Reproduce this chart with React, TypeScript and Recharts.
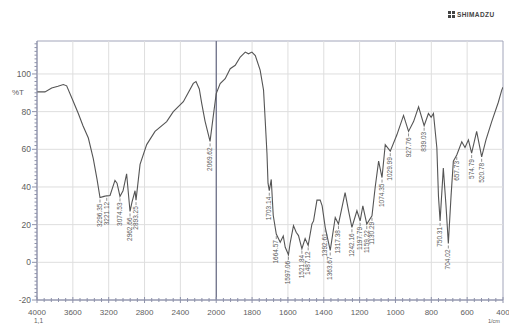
import React from 'react';
import { ComposedChart, Line, Scatter, XAxis, YAxis, ReferenceLine, ReferenceArea } from 'recharts';

const wavenumbers = [
  4000, 3911, 3836, 3766, 3706, 3669, 3609, 3539, 3487, 3427, 3372, 3330, 3297, 3252, 3222, 3185,
  3130, 3107, 3074, 3040, 3000, 2962, 2940, 2906, 2895, 2850, 2776, 2683, 2553, 2479, 2367, 2256,
  2226, 2189, 2162, 2125, 2069, 2032, 2000, 1978, 1950, 1922, 1894, 1866, 1838, 1820, 1801, 1782,
  1755, 1736, 1727, 1717, 1711, 1704, 1693, 1682, 1665, 1643, 1626, 1615, 1597, 1588, 1569, 1554,
  1541, 1522, 1504, 1487, 1466, 1457, 1438, 1420, 1409, 1392, 1364, 1336, 1318, 1281, 1262, 1243,
  1215, 1197, 1182, 1160, 1131, 1113, 1094, 1075, 1057, 1029, 992, 955, 927, 899, 871, 840, 816,
  801, 788, 769, 760, 751, 733, 718, 705, 690, 677, 658, 630, 612, 593, 575, 547, 519, 495, 463,
  426, 407, 400,
];

const transmittance = [
  90.5, 90.5, 92.6, 93.5, 94.4, 93.7, 87, 79, 72.5, 66, 55, 44, 34.4, 35, 35.3, 35.5,
  43.5, 42, 35, 38, 47, 27, 32, 38, 33, 52, 62.5, 69.5, 74.7, 80, 85.3, 95,
  96, 92, 84.4, 75, 64.2, 78, 89.6, 94.9, 97.5, 102.8, 104.6, 109, 111.6, 110.7, 111.6, 109.8,
  102, 91.4, 75.8, 58, 42, 38, 44, 25, 15, 10.7, 14, 8, 4, 10, 19.5, 16,
  14.2, 7.2, 12.6, 9, 20.4, 22, 33, 33, 30, 18.6, 6.3, 23.8, 20.3, 37, 27.4, 18.6,
  27.4, 22, 30, 20.3, 24.7, 40, 53.7, 45, 62.5, 59, 67.7, 78, 69.5, 74.7, 82.6, 72.5, 79,
  77, 79, 60.7, 35, 22, 50, 30, 10, 35, 53.7, 57, 64, 61, 65, 58, 69.5, 56, 65, 74.7,
  85, 91.4, 93,
];

const xTickWavenumbers = [4000, 3600, 3200, 2800, 2400, 2000, 1800, 1600, 1400, 1200, 1000, 800, 600, 400];
const xTickLabels = ['4000', '3600', '3200', '2800', '2400', '2000', '1800', '1600', '1400', '1200', '1000', '800', '600', '400'];
const yTickValues = [-20, 0, 20, 40, 60, 80, 100];

const peakWavenumbers = [3297, 3222, 3074, 2962, 2895, 2069, 1704, 1665, 1597, 1522, 1487, 1392, 1364, 1318, 1243, 1197, 1160, 1131, 1075, 1029, 927, 840, 751, 705, 658, 575, 519];
const peakTransmittance = [34.4, 35.3, 35, 27, 33, 64.2, 38, 15, 4, 7.2, 9, 18.6, 6.3, 20.3, 18.6, 22, 20.3, 24.7, 45, 59, 69.5, 72.5, 22, 10, 57, 58, 56];
const peakLabels = ['3296.35', '3221.12', '3074.53', '2962.66', '2893.25', '2069.62', '1703.14', '1664.57', '1597.06', '1521.84', '1487.12', '1392.61', '1363.67', '1317.38', '1242.16', '1197.79', '1159.22', '1130.29', '1074.35', '1029.99', '927.76', '839.03', '750.31', '704.02', '657.73', '574.79', '520.78'];

const toAxis = (wn: number) => (wn >= 2000 ? (4000 - wn) / 400 : 5 + (2000 - wn) / 200);

const spectrum = wavenumbers.map((w, i) => ({ u: toAxis(w), t: transmittance[i] }));
const peaks = peakWavenumbers.map((w, i) => ({ u: toAxis(w), t: peakTransmittance[i], label: peakLabels[i] }));

const majorX = xTickWavenumbers.map(toAxis);
const xTicks: number[] = [];
for (let i = 0; i < 13; i++) {
  for (let k = 0; k < 5; k++) xTicks.push(Math.round((i + k / 5) * 1000) / 1000);
}
xTicks.push(13);

const yTicks: number[] = [];
for (let v = -20; v <= 116; v += 2) yTicks.push(v);

const FONT = '"Liberation Sans", Arial, sans-serif';
const AXIS_COLOR = '#8e92aa';
const TEXT_COLOR = '#606060';

const XTick = (props: any) => {
  const { x, y, payload } = props;
  const v = payload.value as number;
  const idx = Math.round(v);
  const major = Math.abs(v - idx) < 1e-6;
  return (
    <g>
      <line x1={x} x2={x} y1={y - (major ? 3 : 2)} y2={y + (major ? 3 : 2)} stroke={AXIS_COLOR} strokeWidth={1} />
      {major && (
        <text x={x} y={y + 15} textAnchor="middle" fontSize={8} fill={TEXT_COLOR} fontFamily={FONT}>
          {xTickLabels[idx]}
        </text>
      )}
    </g>
  );
};

const YTick = (props: any) => {
  const { x, y, payload } = props;
  const v = payload.value as number;
  const major = yTickValues.includes(v);
  return (
    <g>
      <line x1={x - (major ? 5 : 2.5)} x2={x} y1={y} y2={y} stroke={AXIS_COLOR} strokeWidth={1} />
      {major && (
        <text x={x - 6} y={y} dy={3} textAnchor="end" fontSize={8.5} fill={TEXT_COLOR} fontFamily={FONT}>
          {v}
        </text>
      )}
    </g>
  );
};

const PeakLabel = (props: any) => {
  const { cx, cy, payload } = props;
  if (cx == null || cy == null) return null;
  return (
    <g>
      <line x1={cx} x2={cx} y1={cy + 2} y2={cy + 5} stroke="#777" strokeWidth={0.8} />
      <text
        x={cx}
        y={cy + 6}
        transform={`rotate(-90 ${cx} ${cy + 6})`}
        textAnchor="end"
        dy={2}
        fontSize={6.5}
        fill="#5a5a5a"
        fontFamily={FONT}
      >
        {payload.label}
      </text>
    </g>
  );
};

export default function App() {
  return (
    <div style={{ position: 'absolute', left: 0, top: 0, width: 509, height: 330, background: '#fff', fontFamily: FONT }}>
      <ComposedChart width={509} height={330} margin={{ top: 41, right: 6, left: 0, bottom: 0 }}>
        <XAxis
          type="number"
          dataKey="u"
          domain={[0, 13]}
          ticks={xTicks}
          interval={0}
          height={30}
          tickLine={false}
          tickSize={0}
          tickMargin={0}
          axisLine={{ stroke: AXIS_COLOR }}
          tick={<XTick />}
          allowDataOverflow
        />
        <YAxis
          type="number"
          dataKey="t"
          domain={[-20, 117.5]}
          ticks={yTicks}
          interval={0}
          width={37}
          tickLine={false}
          tickSize={0}
          tickMargin={0}
          axisLine={{ stroke: AXIS_COLOR }}
          tick={<YTick />}
          allowDataOverflow
        />
        {majorX.slice(1, 13).map((u) => (
          <ReferenceLine key={'gx' + u} x={u} stroke="#dedede" strokeWidth={1} />
        ))}
        {yTickValues.slice(1).map((v) => (
          <ReferenceLine key={'gy' + v} y={v} stroke="#dedede" strokeWidth={1} />
        ))}
        <ReferenceLine x={toAxis(2000)} stroke="#4d5170" strokeWidth={1} />
        <ReferenceArea x1={0} x2={13} y1={-20} y2={117.5} fill="none" stroke="#a2a5ba" strokeWidth={1} />
        <Line
          data={spectrum}
          dataKey="t"
          type="linear"
          stroke="#555"
          strokeWidth={1.1}
          dot={false}
          isAnimationActive={false}
        />
        <Scatter data={peaks} dataKey="t" shape={<PeakLabel />} isAnimationActive={false} />
      </ComposedChart>
      <div style={{ position: 'absolute', left: 12, top: 88, fontSize: 8, color: TEXT_COLOR }}>%T</div>
      <div style={{ position: 'absolute', left: 34, top: 317, fontSize: 6.5, color: TEXT_COLOR }}>1,1</div>
      <div style={{ position: 'absolute', left: 488, top: 318, fontSize: 5.5, color: TEXT_COLOR }}>1/cm</div>
      <div style={{ position: 'absolute', left: 448, top: 11, width: 7, height: 7, display: 'grid', gridTemplateColumns: '1fr 1fr', gap: 1 }}>
        <div style={{ background: '#444' }} />
        <div style={{ background: '#444' }} />
        <div style={{ background: '#444' }} />
        <div style={{ background: '#444' }} />
      </div>
      <div style={{ position: 'absolute', left: 457, top: 10, fontSize: 6.5, fontWeight: 700, color: '#444', letterSpacing: 0.4, lineHeight: '9px' }}>SHIMADZU</div>
    </div>
  );
}
